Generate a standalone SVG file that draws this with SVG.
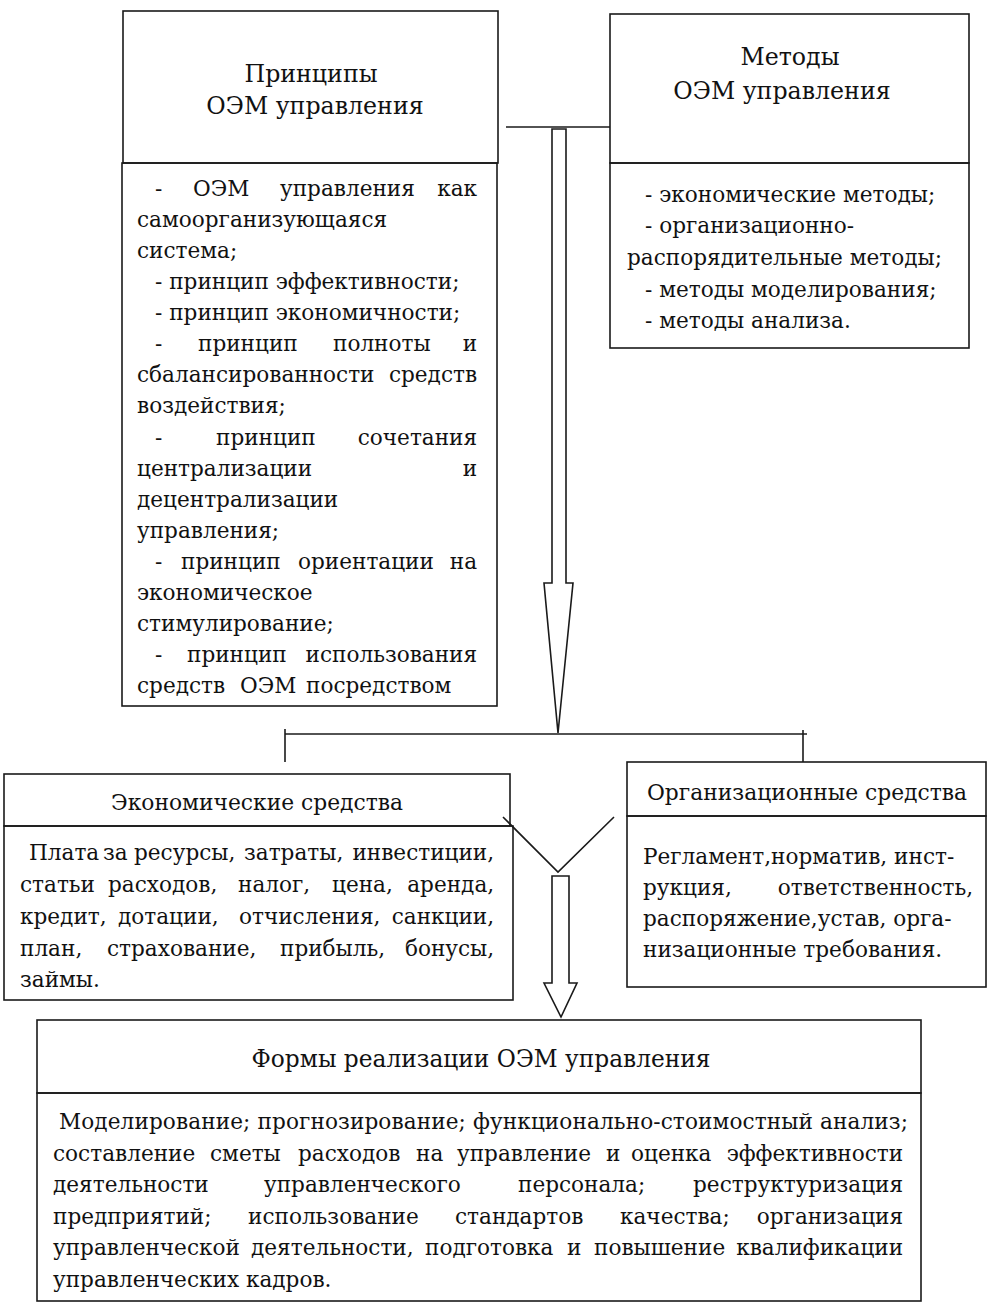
<svg xmlns="http://www.w3.org/2000/svg" width="996" height="1315" viewBox="0 0 996 1315">
<style>
.box{fill:none;stroke:#1a1a1a;stroke-width:1.6}
.ln{fill:none;stroke:#1a1a1a;stroke-width:1.6}
text{font-family:'DejaVu Serif',serif;fill:#111}
.h1{font-size:23.7px;text-anchor:middle}
.h2{font-size:21.8px;text-anchor:middle}
.hb{font-size:23.3px;text-anchor:middle}
.b{font-size:21.6px}
.e{text-anchor:end}
</style>
<rect width="996" height="1315" fill="#fff"/>
<g id="principles">
<rect class="box" x="123" y="11" width="375" height="152"/>
<rect class="box" x="122" y="163" width="375" height="543"/>
<text class="h1" x="311" y="82">Принципы</text>
<text class="h1" x="315" y="114">ОЭМ управления</text>
<text class="b">
<tspan x="155" y="196">-</tspan><tspan x="193" y="196">ОЭМ</tspan><tspan x="280" y="196">управления</tspan><tspan class="e" x="484" y="196">как</tspan>
<tspan x="137" y="227">самоорганизующаяся</tspan>
<tspan x="137" y="258">система;</tspan>
<tspan x="155" y="289">- принцип эффективности;</tspan>
<tspan x="155" y="320">- принцип экономичности;</tspan>
<tspan x="155" y="351">-</tspan><tspan x="198" y="351">принцип</tspan><tspan x="333" y="351">полноты</tspan><tspan class="e" x="484" y="351">и</tspan>
<tspan x="137" y="382">сбалансированности</tspan><tspan class="e" x="484" y="382">средств</tspan>
<tspan x="137" y="413">воздействия;</tspan>
<tspan x="155" y="445">-</tspan><tspan x="216" y="445">принцип</tspan><tspan class="e" x="484" y="445">сочетания</tspan>
<tspan x="137" y="476">централизации</tspan><tspan class="e" x="484" y="476">и</tspan>
<tspan x="137" y="507">децентрализации</tspan>
<tspan x="137" y="538">управления;</tspan>
<tspan x="155" y="569">-</tspan><tspan x="181" y="569">принцип</tspan><tspan x="298" y="569">ориентации</tspan><tspan class="e" x="484" y="569">на</tspan>
<tspan x="137" y="600">экономическое</tspan>
<tspan x="137" y="631">стимулирование;</tspan>
<tspan x="155" y="662">-</tspan><tspan x="187" y="662">принцип</tspan><tspan class="e" x="484" y="662">использования</tspan>
<tspan x="137" y="693">средств</tspan><tspan x="240" y="693">ОЭМ</tspan><tspan x="306" y="693">посредством</tspan>
</text>
</g>
<g id="methods">
<rect class="box" x="610" y="14" width="359" height="149"/>
<rect class="box" x="610" y="163" width="359" height="185"/>
<text class="h1" x="790" y="65">Методы</text>
<text class="h1" x="782" y="99">ОЭМ управления</text>
<text class="b">
<tspan x="645" y="202">- экономические методы;</tspan>
<tspan x="645" y="233">- организационно-</tspan>
<tspan x="627" y="265">распорядительные методы;</tspan>
<tspan x="645" y="297">- методы моделирования;</tspan>
<tspan x="645" y="328">- методы анализа.</tspan>
</text>
</g>
<g id="economic">
<rect class="box" x="4" y="774" width="506" height="52"/>
<rect class="box" x="4" y="826" width="509" height="174"/>
<text class="h2" x="257" y="810">Экономические средства</text>
<text class="b">
<tspan x="29" y="860">Плата</tspan><tspan x="103" y="860">за</tspan><tspan x="134" y="860">ресурсы,</tspan><tspan x="244" y="860">затраты,</tspan><tspan class="e" x="501" y="860">инвестиции,</tspan>
<tspan x="20" y="892">статьи</tspan><tspan x="108" y="892">расходов,</tspan><tspan x="238" y="892">налог,</tspan><tspan x="332" y="892">цена,</tspan><tspan class="e" x="501" y="892">аренда,</tspan>
<tspan x="20" y="924">кредит,</tspan><tspan x="118" y="924">дотации,</tspan><tspan x="239" y="924">отчисления,</tspan><tspan class="e" x="501" y="924">санкции,</tspan>
<tspan x="20" y="956">план,</tspan><tspan x="107" y="956">страхование,</tspan><tspan x="280" y="956">прибыль,</tspan><tspan class="e" x="501" y="956">бонусы,</tspan>
<tspan x="20" y="987">займы.</tspan>
</text>
</g>
<g id="organizational">
<rect class="box" x="627" y="762" width="359" height="54"/>
<rect class="box" x="627" y="816" width="359" height="171"/>
<text class="h2" x="807" y="800">Организационные средства</text>
<text class="b">
<tspan x="643" y="864">Регламент,норматив, инст-</tspan>
<tspan x="643" y="895">рукция,</tspan><tspan class="e" x="980" y="895">ответственность,</tspan>
<tspan x="643" y="926">распоряжение,устав, орга-</tspan>
<tspan x="643" y="957">низационные требования.</tspan>
</text>
</g>
<g id="forms">
<rect class="box" x="37" y="1020" width="884" height="73"/>
<rect class="box" x="37" y="1093" width="884" height="208"/>
<text class="hb" x="481" y="1067">Формы реализации ОЭМ управления</text>
<text class="b">
<tspan x="59" y="1129" textLength="849" lengthAdjust="spacing">Моделирование; прогнозирование; функционально-стоимостный анализ;</tspan>
<tspan x="53" y="1161">составление</tspan><tspan x="210" y="1161">сметы</tspan><tspan x="298" y="1161">расходов</tspan><tspan x="416" y="1161">на</tspan><tspan x="457" y="1161">управление</tspan><tspan x="606" y="1161">и</tspan><tspan x="631" y="1161">оценка</tspan><tspan class="e" x="910" y="1161">эффективности</tspan>
<tspan x="53" y="1192">деятельности</tspan><tspan x="264" y="1192">управленческого</tspan><tspan x="518" y="1192">персонала;</tspan><tspan class="e" x="910" y="1192">реструктуризация</tspan>
<tspan x="53" y="1224">предприятий;</tspan><tspan x="248" y="1224">использование</tspan><tspan x="455" y="1224">стандартов</tspan><tspan x="620" y="1224">качества;</tspan><tspan class="e" x="910" y="1224">организация</tspan>
<tspan x="53" y="1255">управленческой</tspan><tspan x="251" y="1255">деятельности,</tspan><tspan x="425" y="1255">подготовка</tspan><tspan x="567" y="1255">и</tspan><tspan x="594" y="1255">повышение</tspan><tspan class="e" x="910" y="1255">квалификации</tspan>
<tspan x="53" y="1287">управленческих кадров.</tspan>
</text>
</g>
<g id="connectors">
<line class="ln" x1="506" y1="127" x2="610" y2="127"/>
<polygon class="ln" points="552,129 552,583 544,583 558,733 573,583 566,583 566,129"/>
<line class="ln" x1="285" y1="734" x2="807" y2="734"/>
<line class="ln" x1="285" y1="729" x2="285" y2="762"/>
<line class="ln" x1="803" y1="730" x2="803" y2="762"/>
<polyline class="ln" points="503,817 558,872 614,817"/>
<polygon class="ln" points="552,876 552,983 544,983 561,1017 577,983 569,983 569,876"/>
</g>
</svg>
